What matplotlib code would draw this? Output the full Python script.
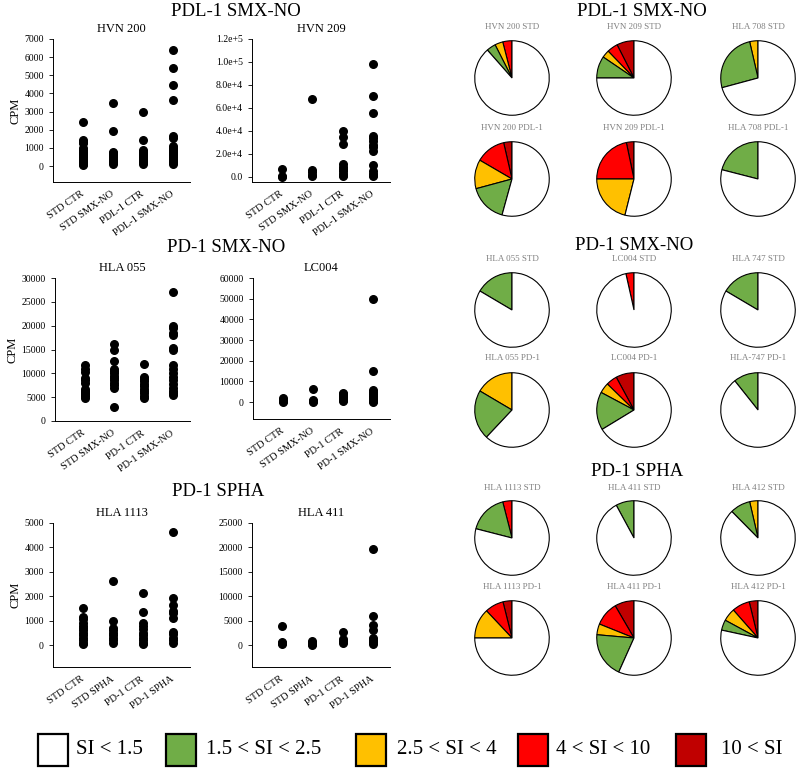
import numpy as np
import matplotlib
matplotlib.use("Agg")
from matplotlib import pyplot as plt
from matplotlib.patches import Rectangle

plt.rcParams["font.family"] = ["Liberation Serif", "DejaVu Serif"]

# ---- scatter data (CPM), one list per condition ----
cats_smx_pdl1 = ["STD CTR", "STD SMX-NO", "PDL-1 CTR", "PDL-1 SMX-NO"]
cats_smx_pd1 = ["STD CTR", "STD SMX-NO", "PD-1 CTR", "PD-1 SMX-NO"]
cats_spha = ["STD CTR", "STD SPHA", "PD-1 CTR", "PD-1 SPHA"]

hvn200 = [
    [2450, 1450, 1350, 1250, 1000, 900, 800, 700, 600, 500, 400, 300, 200, 100, 50],
    [3450, 1950, 800, 700, 600, 500, 400, 300, 200, 100],
    [2950, 1450, 900, 800, 700, 600, 500, 400, 300, 200, 100],
    [6400, 5400, 4450, 3650, 1650, 1550, 1100, 1000, 900, 800, 700, 600, 500, 400, 300, 200, 100],
]
hvn209 = [
    [7000, 500, 200],
    [68000, 6000, 4000, 2000, 500],
    [40000, 34500, 29000, 11000, 9000, 7000, 5000, 3000, 1500, 500],
    [98000, 70000, 56000, 36000, 34000, 31000, 28000, 26000, 23000, 10500, 5000, 3000, 1500, 500],
]
hla055 = [
    [11700, 11000, 10300, 9000, 8500, 8000, 6800, 6300, 6000, 5700, 5200, 4800],
    [16200, 14900, 12600, 11000, 10500, 10000, 9500, 9000, 8500, 8000, 7500, 7000, 2900],
    [12000, 9200, 8800, 8300, 7800, 7300, 6800, 6300, 5800, 5300, 4800],
    [27000, 20000, 19500, 18500, 18000, 15300, 14800, 11700, 11000, 10000, 9300, 8500, 7800, 7000, 6300, 5800, 5400],
]
lc004 = [
    [1800, 1200, 600, 200],
    [6300, 1000, 500, 200],
    [4500, 3800, 3000, 2200, 1500, 800, 300],
    [50000, 14800, 5800, 5000, 4000, 3000, 2000, 1200, 500, 200],
]
hla1113 = [
    [1500, 1150, 1050, 900, 800, 700, 600, 500, 400, 300, 200, 100, 50],
    [2620, 1000, 700, 600, 500, 400, 300, 200, 100],
    [2120, 1350, 900, 800, 650, 500, 400, 300, 200, 100, 50],
    [4650, 1920, 1650, 1400, 1300, 1100, 550, 450, 300, 200, 100],
]
hla411 = [
    [3800, 600, 400, 200],
    [800, 500, 300, 100],
    [2700, 1300, 800, 400],
    [19600, 5900, 4200, 3100, 1500, 1000, 600, 200],
]

hvn209_ticks = [0, 20000, 40000, 60000, 80000, 100000, 120000]
hvn209_ticklabels = ["0.0", "2.0e+4", "4.0e+4", "6.0e+4", "8.0e+4", "1.0e+5", "1.2e+5"]

# ---- pie data: fractions [10<SI, 4-10, 2.5-4, 1.5-2.5, SI<1.5] ----
pie_colors = ["#C00000", "#FF0000", "#FFC000", "#70AD47", "white"]
legend_labels = ["SI < 1.5", "1.5 < SI < 2.5", "2.5 < SI < 4", "4 < SI < 10", "10 < SI"]
legend_colors = ["white", "#70AD47", "#FFC000", "#FF0000", "#C00000"]

pie_titles = [
    ["HVN 200 STD", "HVN 209 STD", "HLA 708 STD"],
    ["HVN 200 PDL-1", "HVN 209 PDL-1", "HLA 708 PDL-1"],
    ["HLA 055 STD", "LC004 STD", "HLA 747 STD"],
    ["HLA 055 PD-1", "LC004 PD-1", "HLA-747 PD-1"],
    ["HLA 1113 STD", "HLA 411 STD", "HLA 412 STD"],
    ["HLA 1113 PD-1", "HLA 411 PD-1", "HLA 412 PD-1"],
]
pie_values = [
    [[0, 0.04, 0.035, 0.04, 0.885], [0.075, 0.047, 0.033, 0.095, 0.75], [0, 0, 0.036, 0.256, 0.708]],
    [[0.036, 0.13, 0.126, 0.165, 0.543], [0.033, 0.217, 0.211, 0, 0.539], [0, 0, 0, 0.21, 0.79]],
    [[0, 0, 0, 0.165, 0.835], [0, 0.035, 0, 0, 0.965], [0, 0, 0, 0.165, 0.835]],
    [[0, 0, 0.165, 0.215, 0.62], [0.079, 0.048, 0.045, 0.165, 0.663], [0, 0, 0, 0.107, 0.893]],
    [[0, 0.04, 0, 0.17, 0.79], [0, 0, 0, 0.079, 0.921], [0, 0, 0.036, 0.088, 0.876]],
    [[0.039, 0.081, 0.13, 0, 0.75], [0.084, 0.105, 0.047, 0.197, 0.567], [0.038, 0.077, 0.056, 0.045, 0.784]],
]

section_titles = ["PDL-1 SMX-NO", "PD-1 SMX-NO", "PD-1 SPHA"]

W, H = 800, 768
fig = plt.figure(figsize=(8, 7.68), dpi=100)


def px_box(x0, y0, x1, y1):
    # pixel box (origin top-left) -> figure fraction rect
    return [x0 / W, 1 - y1 / H, (x1 - x0) / W, (y1 - y0) / H]


def scatter_panel(rect, title, cats, data, ylim, yticks, yticklabels=None, ylabel=True):
    ax = fig.add_axes(px_box(*rect))
    for i, vals in enumerate(data):
        ax.scatter(np.full(len(vals), i + 1), vals, s=30, color="black", zorder=3, clip_on=False)
    ax.set_xlim(0, 4.57)
    ax.set_ylim(*ylim)
    ax.set_yticks(yticks)
    if yticklabels is not None:
        ax.set_yticklabels(yticklabels)
    ax.set_xticks(range(1, 5))
    ax.set_xticklabels(cats, rotation=35, ha="right", va="center", rotation_mode="anchor")
    ax.tick_params(axis="x", length=0, pad=8, labelsize=7.5)
    ax.tick_params(axis="y", length=3, width=0.6, labelsize=7)
    ax.spines["top"].set_visible(False)
    ax.spines["right"].set_visible(False)
    ax.spines["left"].set_linewidth(0.7)
    ax.spines["bottom"].set_linewidth(0.7)
    ax.set_title(title, fontsize=9, pad=5)
    if ylabel:
        ax.set_ylabel("CPM", fontsize=9, labelpad=2)
    return ax


scatter_panel((53, 39, 190, 182), "HVN 200", cats_smx_pdl1, hvn200,
              (-880, 7000), range(0, 7001, 1000))
scatter_panel((252, 39, 390, 182), "HVN 209", cats_smx_pdl1, hvn209,
              (-4350, 120000), hvn209_ticks, hvn209_ticklabels, ylabel=False)
scatter_panel((55, 278, 190, 421), "HLA 055", cats_smx_pd1, hla055,
              (0, 30000), range(0, 30001, 5000))
scatter_panel((253, 278, 390, 419), "LC004", cats_smx_pd1, lc004,
              (-8200, 60000), range(0, 60001, 10000), ylabel=False)
scatter_panel((53, 523, 190, 667), "HLA 1113", cats_spha, hla1113,
              (-900, 5000), range(0, 5001, 1000))
scatter_panel((252, 523, 390, 667), "HLA 411", cats_spha, hla411,
              (-4500, 25000), range(0, 25001, 5000), ylabel=False)

# section titles
left_title_pos = [(236, 12), (226, 247), (218, 492)]
right_title_pos = [(642, 11), (634, 245), (637, 472)]
for t, (lx, ly), (rx, ry) in zip(section_titles, left_title_pos, right_title_pos):
    fig.text(lx / W, 1 - ly / H, t, ha="center", va="center", fontsize=13.5)
    fig.text(rx / W, 1 - ry / H, t, ha="center", va="center", fontsize=13.5)

# pies
pie_x = [512, 634, 758]
pie_y = [78, 179, 310, 410, 538, 638]
title_y = [27, 128, 259, 358, 488, 587]
r = 38
for row in range(6):
    for col in range(3):
        cx, cy = pie_x[col], pie_y[row]
        ax = fig.add_axes(px_box(cx - r, cy - r, cx + r, cy + r))
        vals = [v for v in pie_values[row][col] if v > 0]
        cols = [c for v, c in zip(pie_values[row][col], pie_colors) if v > 0]
        ax.pie(vals, colors=cols, startangle=90, counterclock=True,
               wedgeprops=dict(edgecolor="black", linewidth=0.8))
        ax.set_xlim(-1.02, 1.02)
        ax.set_ylim(-1.02, 1.02)
        fig.text(cx / W, 1 - title_y[row] / H, pie_titles[row][col], ha="center",
                 va="center", fontsize=6.5, color="#808080")

# legend
box_x = [38, 166, 356, 518, 676]
text_x = [76, 206, 397, 556, 721]
for bx, tx, lab, c in zip(box_x, text_x, legend_labels, legend_colors):
    fig.patches.append(Rectangle((bx / W, 1 - 766 / H), 30 / W, 32 / H, transform=fig.transFigure,
                                 facecolor=c, edgecolor="black", linewidth=1.6))
    fig.text(tx / W, 1 - 750 / H, lab, ha="left", va="center", fontsize=15)

fig.savefig("out.png", dpi=100)
